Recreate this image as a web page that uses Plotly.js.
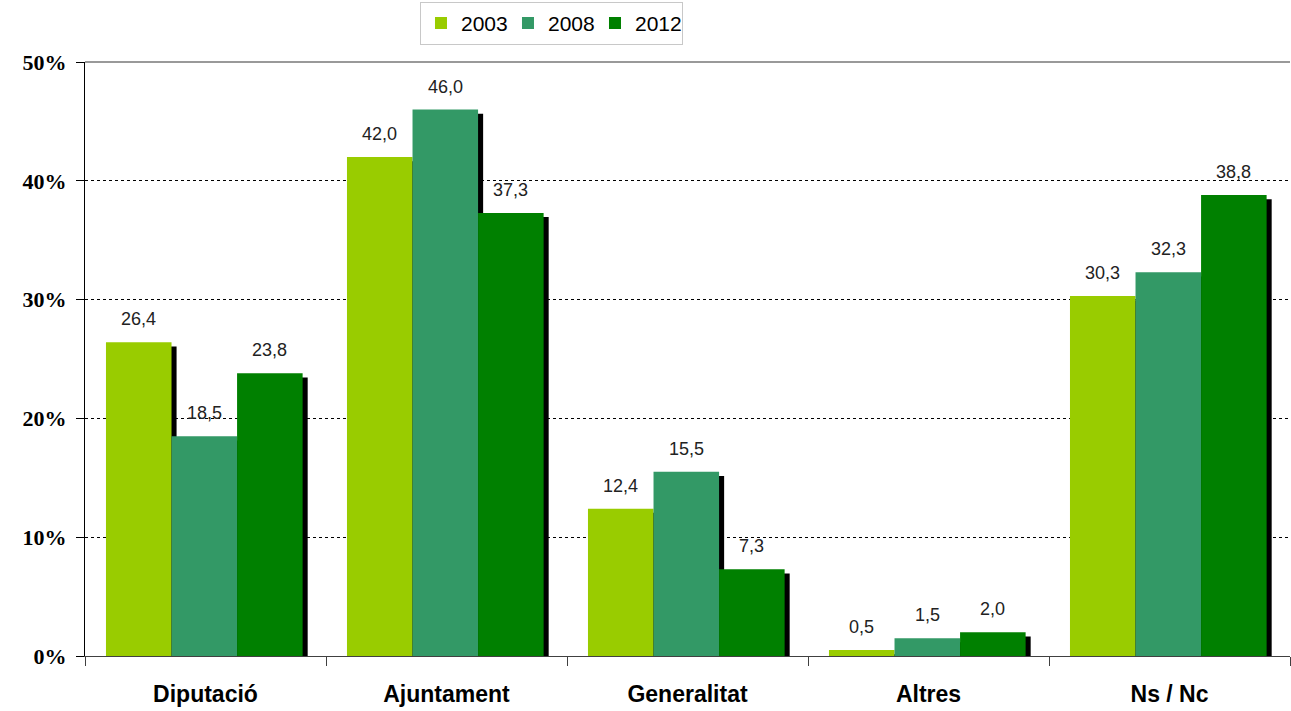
<!DOCTYPE html>
<html>
<head>
<meta charset="utf-8">
<script src="https://cdn.plot.ly/plotly-3.0.1.min.js"></script>
<style>html,body{margin:0;padding:0;background:#fff;}#chart{width:1291px;height:711px;}</style>
</head>
<body>
<div id="chart"></div>
<script>
const categories = ["Diputació", "Ajuntament", "Generalitat", "Altres", "Ns / Nc"];
const seriesNames = ["2003", "2008", "2012"];
const values2003 = [26.4, 42.0, 12.4, 0.5, 30.3];
const values2008 = [18.5, 46.0, 15.5, 1.5, 32.3];
const values2012 = [23.8, 37.3, 7.3, 2.0, 38.8];
const yTickVals = [0, 10, 20, 30, 40, 50];
const yTickLabels = ["0%", "10%", "20%", "30%", "40%", "50%"];

const seriesValues = [values2003, values2008, values2012];
const colors = ["#99CC00", "#339966", "#008000"];
const barWidth = 0.272;
const offsets = [-0.413, -0.141, 0.131];
const shadowShift = 0.021;

const traces = [];
// shadows first (underneath)
seriesValues.forEach((vals, i) => {
  traces.push({
    type: "bar", x: categories, y: vals, base: -0.35,
    width: barWidth, offset: offsets[i] + shadowShift,
    marker: {color: "#000000", line: {width: 0}},
    showlegend: false, hoverinfo: "skip"
  });
});
seriesValues.forEach((vals, i) => {
  traces.push({
    type: "bar", x: categories, y: vals, name: seriesNames[i],
    width: barWidth, offset: offsets[i],
    marker: {color: colors[i], line: {width: 0}}
  });
});

const annotations = [];
seriesValues.forEach((vals, i) => {
  vals.forEach((v, j) => {
    annotations.push({
      x: j + offsets[i] + barWidth / 2, y: v, xref: "x", yref: "y",
      text: v.toFixed(1).replace(".", ","), showarrow: false,
      yshift: 23, font: {family: "Liberation Sans, Arial", size: 18, color: "#222222"}
    });
  });
});

const layout = {
  width: 1291, height: 711,
  margin: {l: 85, r: 1, t: 62, b: 55},
  paper_bgcolor: "#ffffff", plot_bgcolor: "#ffffff",
  barmode: "overlay",
  showlegend: true,
  legend: {
    orientation: "h", x: 0.278, xanchor: "left", y: 1.029, yanchor: "bottom",
    bordercolor: "#c8c8c8", borderwidth: 1, bgcolor: "#ffffff",
    font: {family: "Liberation Sans, Arial", size: 21, color: "#000000"},
    traceorder: "normal", itemwidth: 30, entrywidth: 42, entrywidthmode: "pixels"
  },
  xaxis: {
    type: "category", categoryorder: "array", categoryarray: categories,
    range: [-0.5, 4.5],
    showline: true, linecolor: "#404040", linewidth: 1,
    ticks: "outside", tickson: "boundaries", ticklen: 9, tickcolor: "#404040",
    showgrid: false, ticklabelstandoff: 17,
    tickfont: {family: "Liberation Sans, Arial", size: 23, color: "#000000", weight: "bold"}
  },
  yaxis: {
    range: [0, 50], tickmode: "array", tickvals: yTickVals, ticktext: yTickLabels,
    showline: true, linecolor: "#000000", linewidth: 1,
    ticks: "outside", ticklen: 8, tickcolor: "#000000",
    showgrid: true, gridcolor: "#000000", griddash: "3px,3px", gridwidth: 1,
    zeroline: false, ticklabelstandoff: 5,
    tickfont: {family: "Liberation Serif, Times New Roman", size: 22, color: "#000000", weight: "bold"}
  },
  shapes: [{
    type: "line", xref: "paper", yref: "paper", x0: 0, x1: 1, y0: 1, y1: 1,
    line: {color: "#999999", width: 2}
  }],
  annotations: annotations
};

Plotly.newPlot("chart", traces, layout, {displayModeBar: false, staticPlot: true});
</script>
</body>
</html>
